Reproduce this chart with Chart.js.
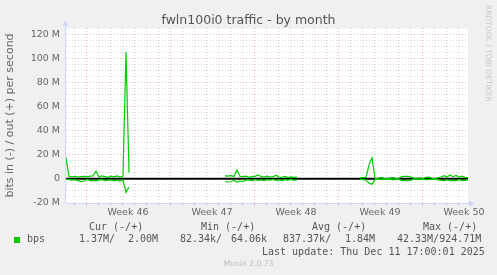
<!DOCTYPE html>
<html>
<head>
<meta charset="utf-8">
<script src="https://cdn.jsdelivr.net/npm/chart.js@4.4.1/dist/chart.umd.min.js"></script>
<style>
  body { margin: 0; background: #f0f0f0; }
  #wrap { position: relative; width: 497px; height: 275px; overflow: hidden; background: #f0f0f0; font-family: "DejaVu Sans"; color: #666; }
  #chart { position: absolute; left: 0; top: 0; }
  .t { position: absolute; white-space: pre; }
  .mono { font-family: "DejaVu Sans Mono"; font-size: 10px; line-height: 12px; color: #555; }
</style>
</head>
<body>
<div id="wrap">
  <canvas id="chart" width="497" height="275"></canvas>
  <div class="t" style="left:0;width:497px;top:11.5px;text-align:center;font-size:12.5px;line-height:15px;color:#555;">fwln100i0 traffic - by month</div>
  <div class="t" style="left:484px;top:5px;writing-mode:vertical-rl;font-size:7.5px;line-height:9px;color:#c8c8c8;">RRDTOOL / TOBI OETIKER</div>

  <!-- легенда -->
  <div class="t mono" style="left:89px;top:221px;">Cur (-/+)</div>
  <div class="t mono" style="left:201px;top:221px;">Min (-/+)</div>
  <div class="t mono" style="left:312px;top:221px;">Avg (-/+)</div>
  <div class="t mono" style="left:423px;top:221px;">Max (-/+)</div>
  <div class="t" style="left:14px;top:237px;width:6px;height:6px;background:#00cc00;"></div>
  <div class="t mono" style="left:27px;top:233px;">bps</div>
  <div class="t mono" style="left:79px;top:233px;">1.37M/</div>
  <div class="t mono" style="left:128px;top:233px;">2.00M</div>
  <div class="t mono" style="left:180px;top:233px;">82.34k/</div>
  <div class="t mono" style="left:231px;top:233px;">64.06k</div>
  <div class="t mono" style="left:283px;top:233px;">837.37k/</div>
  <div class="t mono" style="left:345px;top:233px;">1.84M</div>
  <div class="t mono" style="left:397px;top:233px;">42.33M/924.71M</div>
  <div class="t mono" style="left:262px;top:245.5px;">Last update: Thu Dec 11 17:00:01 2025</div>
  <div class="t" style="left:0;width:497px;top:259px;text-align:center;font-size:7.6px;line-height:10px;color:#bbb;">Munin 2.0.73</div>
</div>

<script>
document.addEventListener("DOMContentLoaded", () => {
  // час у днях від понеділка тижня 46, крок вибірки 6 годин
  const STEP = 0.25;
  const X_MIN = -1.6667;
  const X_MAX = 31.8333;

  const weekNames = ["Week 46", "Week 47", "Week 48", "Week 49", "Week 50"];
  const weekCenters = [3.5, 10.5, 17.5, 24.5, 31.5];

  // три відрізки з даними (в M біт/с), між ними дані відсутні
  const segStarts = [-1.6667, 11.5833, 22.8333];

  const outSeg1 = [17.6, 2.0, 1.6, 2.0, 1.4, 1.8, 2.0, 1.6, 2.2, 2.4, 6.3, 1.6,
    2.4, 1.8, 1.2, 2.2, 1.6, 2.5, 1.4, 2.2, 105, 5.0];
  const inSeg1 = [0.5, 0.4, 1.0, 0.6, 1.5, 2.2, 1.8, 0.5, 1.5, 1.2, 1.6, 0.8,
    0.6, 1.5, 1.0, 0.8, 1.6, 1.0, 1.8, 0.8, 11.3, 7.0];

  const outSeg2 = [2.5, 2.2, 2.6, 2.0, 7.4, 2.0, 1.8, 2.3, 1.2, 1.8, 2.0, 3.3,
    2.0, 1.4, 2.2, 1.5, 1.8, 3.0, 1.5, 1.2, 2.0, 1.0, 1.6, 1.2, 1.5];
  const inSeg2 = [2.2, 2.6, 2.4, 1.2, 2.7, 1.8, 2.3, 1.0, 0.8, 1.4, 0.6, 1.2,
    0.8, 1.5, 0.7, 1.1, 0.5, 1.3, 0.8, 1.4, 0.6, 1.0, 0.5, 1.2, 0.8];

  const outSeg3 = [0.8, 1.0, 1.2, 11.6, 17.6, 0.5, 0.3, 1.2, 0.4, 0.2, 0.6, 1.0,
    0.3, 0.5, 1.8, 2.0, 2.0, 1.4, 0.6, 0.4, 0.8, 0.3, 1.2, 1.4, 0.5, 0.3, 0.8,
    1.5, 2.6, 1.5, 3.3, 1.8, 2.8, 1.4, 2.2, 1.2, 1.0];
  const inSeg3 = [0.3, 0.6, 1.0, 3.6, 4.4, 0.6, 0.3, 0.5, 0.2, 0.4, 0.3, 0.8,
    0.2, 0.4, 1.4, 1.5, 1.2, 1.0, 0.3, 0.2, 0.5, 0.3, 0.6, 0.4, 0.3, 0.5, 0.6,
    1.2, 1.5, 0.8, 1.5, 1.2, 1.4, 0.7, 1.5, 1.2, 0.9];

  const GREEN = "#00cc00";
  const GRID_MINOR = "rgba(150,150,150,0.35)";
  const GRID_MAJOR = "rgba(225,90,90,0.45)";
  const AXIS = "#cfd6f8";

  function buildSeries(segments, sign) {
    const pts = [];
    segments.forEach((values, k) => {
      if (k > 0) pts.push({ x: segStarts[k] - STEP / 2, y: null }); // розрив
      values.forEach((v, i) => pts.push({ x: segStarts[k] + i * STEP, y: sign * v }));
    });
    return pts;
  }

  // фон, нульова лінія та осі зі стрілками
  const muninPlugin = {
    id: "munin",
    beforeDraw(chart) {
      const { ctx, chartArea: a } = chart;
      ctx.save();
      ctx.fillStyle = "#ffffff";
      ctx.fillRect(a.left, a.top, a.right - a.left, a.bottom - a.top);
      ctx.restore();
    },
    beforeDatasetsDraw(chart) {
      const { ctx, chartArea: a, scales } = chart;
      const y0 = scales.y.getPixelForValue(0);
      ctx.save();
      ctx.strokeStyle = "#000000";
      ctx.lineWidth = 2;
      ctx.beginPath();
      ctx.moveTo(a.left, y0);
      ctx.lineTo(a.right, y0);
      ctx.stroke();

      ctx.strokeStyle = AXIS;
      ctx.fillStyle = AXIS;
      ctx.lineWidth = 1;
      ctx.beginPath();
      ctx.moveTo(a.left - 0.5, a.bottom);
      ctx.lineTo(a.left - 0.5, a.top - 3);
      ctx.moveTo(a.left, a.bottom + 0.5);
      ctx.lineTo(a.right + 3, a.bottom + 0.5);
      ctx.stroke();
      ctx.beginPath();
      ctx.moveTo(a.left - 3.5, a.top - 2);
      ctx.lineTo(a.left + 2.5, a.top - 2);
      ctx.lineTo(a.left - 0.5, a.top - 8);
      ctx.closePath();
      ctx.fill();
      ctx.beginPath();
      ctx.moveTo(a.right + 1, a.bottom - 2.5);
      ctx.lineTo(a.right + 1, a.bottom + 3.5);
      ctx.lineTo(a.right + 7, a.bottom + 0.5);
      ctx.closePath();
      ctx.fill();
      ctx.restore();
    },
  };

  function xGridColor(ctx) {
    const v = ctx.tick ? ctx.tick.value : 0;
    if (!Number.isInteger(v)) return "rgba(0,0,0,0)";
    return v % 7 === 0 ? GRID_MAJOR : GRID_MINOR;
  }

  function yGridColor(ctx) {
    const v = ctx.tick ? ctx.tick.value : 0;
    return v % 20 === 0 ? GRID_MAJOR : GRID_MINOR;
  }

  Chart.defaults.font.family = "DejaVu Sans";

  new Chart(document.getElementById("chart"), {
    type: "line",
    data: {
      datasets: [
        {
          label: "out",
          data: buildSeries([outSeg1, outSeg2, outSeg3], 1),
          borderColor: GREEN,
          borderWidth: 1.2,
          pointRadius: 0,
          spanGaps: false,
        },
        {
          label: "in",
          data: buildSeries([inSeg1, inSeg2, inSeg3], -1),
          borderColor: GREEN,
          borderWidth: 1.2,
          pointRadius: 0,
          spanGaps: false,
        },
      ],
    },
    options: {
      responsive: false,
      animation: false,
      devicePixelRatio: 1,
      layout: { padding: { left: 0, top: 28, right: 29, bottom: 0 } },
      plugins: { legend: { display: false }, tooltip: { enabled: false } },
      scales: {
        x: {
          type: "linear",
          min: X_MIN,
          max: X_MAX,
          afterBuildTicks: (scale) => {
            const vals = [];
            for (let d = -1; d <= 31; d++) vals.push(d);
            weekCenters.forEach((c) => vals.push(c));
            vals.sort((a, b) => a - b);
            scale.ticks = vals.map((value) => ({ value }));
          },
          afterFit: (scale) => { scale.height = 72; },
          grid: { color: xGridColor, tickColor: xGridColor, tickLength: 3, lineWidth: 1 },
          border: { display: false, dash: [1, 2] },
          ticks: {
            autoSkip: false,
            maxRotation: 0,
            padding: 1,
            color: "#666",
            font: { size: 9.5 },
            callback: (value) => {
              const i = weekCenters.indexOf(value);
              return i >= 0 ? weekNames[i] : "";
            },
          },
        },
        y: {
          min: -20,
          max: 125,
          afterBuildTicks: (scale) => {
            const vals = [];
            for (let v = -20; v <= 125; v += 5) vals.push({ value: v });
            scale.ticks = vals;
          },
          afterFit: (scale) => { scale.width = 66; },
          grid: { color: yGridColor, drawTicks: false, lineWidth: 1 },
          border: { display: false, dash: [1, 2] },
          ticks: {
            autoSkip: false,
            padding: 6,
            color: "#666",
            font: { size: 9.5 },
            callback: (v) => (v % 20 === 0 ? (v === 0 ? "0" : v + " M") : ""),
          },
          title: {
            display: true,
            text: "bits in (-) / out (+) per second",
            color: "#666",
            font: { size: 11 },
            padding: { top: 4, bottom: 0 },
          },
        },
      },
    },
    plugins: [muninPlugin],
  });
});
</script>
</body>
</html>
